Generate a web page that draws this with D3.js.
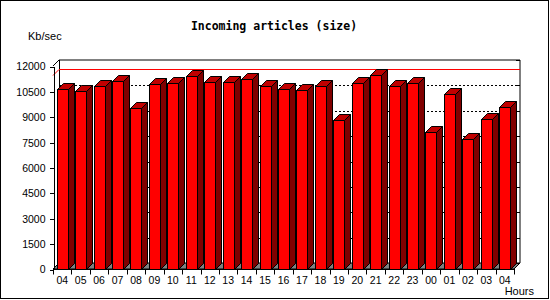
<!DOCTYPE html>
<html>
<head>
<meta charset="utf-8">
<script src="https://cdn.jsdelivr.net/npm/d3@7"></script>
<style>
  body { margin: 0; background: #fff; }
  svg { display: block; }
</style>
</head>
<body>
<div id="chart"></div>
<script>
// hourly incoming article volume, Kb/sec
const hours = ['04', '05', '06', '07', '08', '09', '10', '11', '12', '13', '14', '15', '16',
  '17', '18', '19', '20', '21', '22', '23', '00', '01', '02', '03', '04']
const sizes = [10620, 10500, 10820, 11100, 9520, 10940, 11000, 11400, 11040, 11050, 11210, 10800, 10620,
  10560, 10800, 8790, 10980, 11450, 10800, 10980, 8080, 10330, 7670, 8850, 9560]
const yTicks = [0, 1500, 3000, 4500, 6000, 7500, 9000, 10500, 12000]

const W = 550
const H = 300
const depth = 6
const labelFont = '"Liberation Sans", Arial, sans-serif'

const svg = d3.select('#chart')
  .append('svg')
  .attr('width', W)
  .attr('height', H)

svg.append('rect')
  .attr('x', 0.5).attr('y', 0.5)
  .attr('width', W - 2).attr('height', H - 2)
  .attr('fill', '#fff')
  .attr('stroke', '#000')

const x = d3.scaleBand()
  .domain(d3.range(hours.length))
  .range([53, 514])
  .paddingInner(0.4)
  .paddingOuter(0.2)

const y = d3.scaleLinear()
  .domain([0, 12000])
  .range([269, 66])

const plotL = x.range()[0]
const plotR = x.range()[1]
const plotB = y(0)
const plotT = y(12000)

// floor
svg.append('polygon')
  .attr('points', [[plotL, plotB], [plotR, plotB], [plotR + depth, plotB - depth], [plotL + depth, plotB - depth]].join(' '))
  .attr('fill', '#808080')
  .attr('stroke', '#000')

// grid lines on the back wall
const grid = svg.append('g').attr('shape-rendering', 'crispEdges')
grid.selectAll('line.grid')
  .data(yTicks.filter(t => t > 0 && t < 12000))
  .enter()
  .append('line')
  .attr('class', 'grid')
  .attr('x1', plotL + depth)
  .attr('x2', plotR + depth)
  .attr('y1', d => Math.round(y(d) - depth) + 0.5)
  .attr('y2', d => Math.round(y(d) - depth) + 0.5)
  .attr('stroke', '#000')
  .attr('stroke-dasharray', '2,2')

// small ticks on the right edge of the back wall
grid.selectAll('line.rtick')
  .data(yTicks)
  .enter()
  .append('line')
  .attr('class', 'rtick')
  .attr('x1', plotR + depth - 4)
  .attr('x2', plotR + depth)
  .attr('y1', d => Math.round(y(d) - depth) + 0.5)
  .attr('y2', d => Math.round(y(d) - depth) + 0.5)
  .attr('stroke', '#000')

// back wall frame
svg.append('polyline')
  .attr('points', [[plotL, plotT], [plotL + depth, plotT - depth], [plotR + depth, plotT - depth], [plotR + depth, plotB - depth], [plotR, plotB]].join(' '))
  .attr('fill', 'none')
  .attr('stroke', '#000')
svg.append('line')
  .attr('x1', plotL + depth + 0.5).attr('x2', plotL + depth + 0.5)
  .attr('y1', plotT - depth).attr('y2', plotB - depth)
  .attr('stroke', '#000')

// max line
const maxY = Math.round(y(d3.max(sizes))) + 0.5
svg.append('polyline')
  .attr('points', [[plotL, maxY], [plotL + depth, maxY - depth], [plotR + depth, maxY - depth]].join(' '))
  .attr('fill', 'none')
  .attr('stroke', '#f00')

// bars
const bw = Math.round(x.bandwidth())
const bars = svg.append('g')
  .selectAll('g')
  .data(sizes)
  .enter()
  .append('g')
  .attr('stroke', '#000')

bars.append('rect')
  .attr('x', (d, i) => Math.round(x(i)) + 0.5)
  .attr('y', d => Math.round(y(d)) + 0.5)
  .attr('width', bw)
  .attr('height', d => Math.round(plotB) - Math.round(y(d)))
  .attr('fill', '#f00')

bars.append('polygon')
  .attr('points', (d, i) => {
    const x0 = Math.round(x(i)) + 0.5
    const x1 = x0 + bw
    const yt = Math.round(y(d)) + 0.5
    return [[x0, yt], [x0 + depth, yt - depth], [x1 + depth, yt - depth], [x1, yt]].join(' ')
  })
  .attr('fill', '#c00000')

bars.append('polygon')
  .attr('points', (d, i) => {
    const x1 = Math.round(x(i)) + 0.5 + bw
    const yt = Math.round(y(d)) + 0.5
    const yb = Math.round(plotB) + 0.5
    return [[x1, yt], [x1 + depth, yt - depth], [x1 + depth, yb - depth], [x1, yb]].join(' ')
  })
  .attr('fill', '#800000')

// y axis
const yAxis = svg.append('g')
  .attr('transform', `translate(${plotL + 0.5},0.5)`)
  .call(d3.axisLeft(y).tickValues(yTicks).tickFormat(d3.format('d')).tickSize(4).tickPadding(4).tickSizeOuter(0))
yAxis.selectAll('text')
  .attr('font-family', labelFont)
  .attr('font-size', '10.5px')
  .attr('fill', '#000')
yAxis.selectAll('line, path').attr('stroke', '#000').attr('shape-rendering', 'crispEdges')

// x axis: labels centred in each hour, ticks on the boundaries
const half = x.step() * x.paddingInner() / 2
const xAxis = svg.append('g')
  .attr('transform', `translate(0,${plotB + 0.5})`)
  .call(d3.axisBottom(x).tickSize(0).tickPadding(7).tickFormat(i => hours[i]))
xAxis.select('.domain').remove()
xAxis.selectAll('text')
  .attr('font-family', labelFont)
  .attr('font-size', '10.5px')
  .attr('fill', '#000')

const bounds = d3.range(hours.length).map(i => x(i) - half)
bounds.push(x(hours.length - 1) + x.bandwidth() + half)
xAxis.selectAll('line.bound')
  .data(bounds)
  .enter()
  .append('line')
  .attr('class', 'bound')
  .attr('x1', d => Math.round(d) + 0.5)
  .attr('x2', d => Math.round(d) + 0.5)
  .attr('y1', 0)
  .attr('y2', 5)
  .attr('stroke', '#000')
xAxis.append('line')
  .attr('x1', plotL).attr('x2', plotR + 1)
  .attr('y1', 0).attr('y2', 0)
  .attr('stroke', '#000')

// titles
svg.append('text')
  .attr('x', 274)
  .attr('y', 30)
  .attr('text-anchor', 'middle')
  .attr('font-family', '"DejaVu Sans Mono", monospace')
  .attr('font-weight', 'bold')
  .attr('font-size', '11.5px')
  .text('Incoming articles (size)')

svg.append('text')
  .attr('x', 28)
  .attr('y', 40)
  .attr('font-family', labelFont)
  .attr('font-size', '11px')
  .text('Kb/sec')

svg.append('text')
  .attr('x', 534)
  .attr('y', 295)
  .attr('text-anchor', 'end')
  .attr('font-family', labelFont)
  .attr('font-size', '11px')
  .text('Hours')
</script>
</body>
</html>
